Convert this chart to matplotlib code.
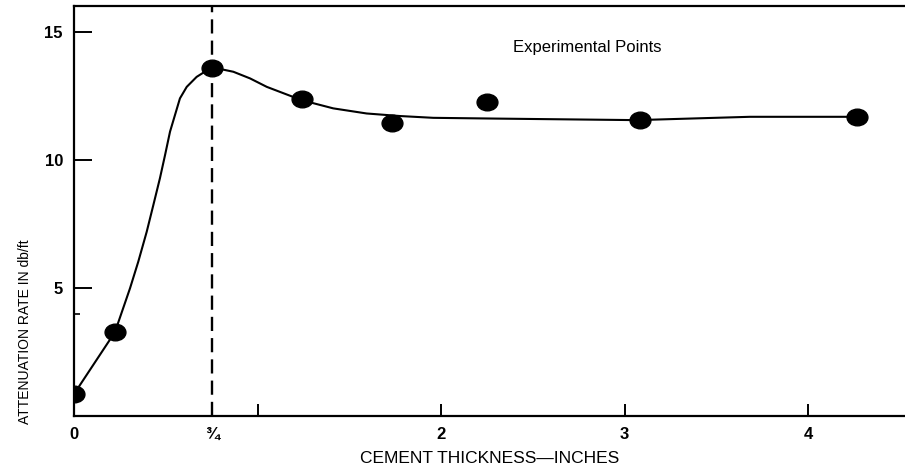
import numpy as np
import matplotlib
matplotlib.use('Agg')
import matplotlib.pyplot as plt
from matplotlib.path import Path
from matplotlib.transforms import Affine2D

plt.rcParams['font.family'] = ['Liberation Sans', 'DejaVu Sans']

# experimental points (inches, db/ft)
pts_x = [0.0, 0.223, 0.75, 1.24, 1.73, 2.252, 3.083, 4.266]
pts_y = [0.86, 3.28, 13.6, 12.37, 11.43, 12.28, 11.56, 11.69]

# hand drawn curve
curve_x = [0.0, 0.223, 0.305, 0.350, 0.396, 0.432, 0.468, 0.496, 0.523,
           0.550, 0.577, 0.614, 0.668, 0.741, 0.768, 0.868, 0.959, 1.05,
           1.24, 1.412, 1.594, 1.776, 1.957, 2.302, 3.065, 3.682, 4.266]
curve_y = [0.86, 3.28, 4.99, 6.03, 7.20, 8.24, 9.29, 10.20, 11.11,
           11.76, 12.41, 12.86, 13.25, 13.58, 13.6, 13.45, 13.19, 12.86,
           12.34, 12.02, 11.82, 11.72, 11.65, 11.62, 11.56, 11.69, 11.69]

xticks = [0, 0.75, 1, 2, 3, 4]
xticklabels = ['0', '\u00be', '', '2', '3', '4']
yticks = [5, 10, 15]

fig = plt.figure(figsize=(9.05, 4.67), dpi=100)
ax = fig.add_axes([0.0818, 0.1092, 0.918, 0.8769])

ax.plot(curve_x, curve_y, color='black', lw=1.5, solid_joinstyle='round', zorder=2)

# slightly flattened dots like the original
dot = Path.unit_circle().transformed(Affine2D().scale(1.0, 0.8))
ax.plot(pts_x, pts_y, linestyle='none', marker=dot, markersize=15,
        color='black', zorder=3)

ax.axvline(0.75, color='black', lw=1.7, dashes=(6, 3), zorder=1)

ax.set_xlim(0, 4.526)
ax.set_ylim(0, 16.0)

ax.set_xticks(xticks)
ax.set_xticklabels(xticklabels, fontsize=12, fontweight='bold')
ax.set_yticks(yticks)
ax.set_yticklabels([str(v) for v in yticks], fontsize=12, fontweight='bold')
ax.set_yticks([4], minor=True)
ax.tick_params(axis='x', direction='in', length=9, width=1.4, pad=8)
ax.tick_params(axis='y', direction='in', length=13, width=1.4, pad=8)
ax.tick_params(axis='y', which='minor', direction='in', length=4, width=1.2)

for s in ['left', 'bottom', 'top']:
    ax.spines[s].set_linewidth(1.6)
ax.spines['right'].set_visible(False)

ax.set_xlabel('CEMENT THICKNESS\u2014INCHES', fontsize=12.5)
ax.xaxis.label.set_va('center')
ax.xaxis.set_label_coords(0.5, -0.103)

ax.set_ylabel('ATTENUATION RATE IN db/ft', fontsize=10)
ax.yaxis.label.set_rotation_mode('default')
ax.yaxis.label.set_va('center')
ax.yaxis.label.set_ha('center')
ax.yaxis.set_label_coords(-0.059, 0.205)

ax.text(2.39, 14.4, 'Experimental Points', fontsize=12, va='center', ha='left')

fig.savefig('out.png', dpi=100)
